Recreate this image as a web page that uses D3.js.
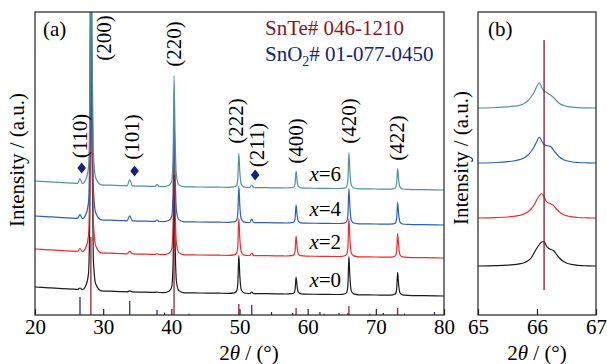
<!DOCTYPE html>
<html>
<head>
<meta charset="utf-8">
<script src="https://cdn.jsdelivr.net/npm/d3@7"></script>
<style>
  body { margin: 0; background: #fff; }
</style>
</head>
<body>
<div id="chart"></div>
<script>
// ---- panel (a): full patterns, shared 2θ grid ----
const twoTheta = [20, 22, 24, 25.8, 26.25, 26.6, 26.95, 27.5, 27.85, 28.05,
  28.2, 28.35, 28.55, 28.9, 29.7, 31, 32.5, 33.5, 33.9, 34.3,
  35.5, 37.6, 37.9, 38.2, 38.9, 39.7, 40.05, 40.25, 40.4, 40.55,
  40.75, 41.1, 41.9, 44, 47, 48.4, 49.2, 49.55, 49.75, 49.9,
  50.05, 50.25, 50.6, 51.3, 51.5, 51.8, 52.1, 54, 56, 56.8,
  57.6, 57.95, 58.15, 58.3, 58.45, 58.65, 59.0, 59.8, 62, 64,
  64.6, 65.35, 65.7, 65.9, 66.05, 66.2, 66.4, 66.75, 67.5, 70,
  71.7, 72.5, 72.85, 73.05, 73.2, 73.35, 73.55, 73.9, 74.7, 77, 80];

const intX0 = [28, 27.2, 26.4, 25.8, 25.6, 27, 25.4, 30.2, 41.6, 107.5,
  355, 173.3, 57.7, 31.2, 24.2, 23.8, 23.4, 23.2, 24.1, 23.1,
  22.9, 22.6, 23, 22.5, 22.4, 24, 27.9, 50.3, 134.3, 72.7,
  33.5, 24.4, 22.2, 22, 21.8, 21.7, 22.2, 23.5, 31.1, 59.6,
  38.7, 25.4, 22.3, 21.5, 21.5, 22.9, 21.4, 21.3, 21.1, 21,
  21.3, 21.8, 25.2, 37.9, 28.6, 22.6, 21.2, 20.8, 20.7, 20.5,
  20.5, 21, 22.3, 29.9, 58.4, 37.5, 24.1, 21.1, 20.2, 20,
  19.8, 20.1, 20.9, 25.5, 42.7, 30, 22, 20.1, 19.6, 19.3, 19];
const intX2 = [28, 27.2, 26.4, 25.8, 25.6, 28.5, 25.4, 30.2, 41.6, 107.5,
  355, 173.3, 57.7, 31.2, 24.2, 23.8, 23.4, 23.2, 25.6, 23.1,
  22.9, 22.6, 23.5, 22.5, 22.4, 24, 27.9, 50.1, 133.3, 72.3,
  33.4, 24.4, 22.2, 22, 21.8, 21.7, 22.2, 23.5, 30.9, 58.6,
  38.3, 25.3, 22.2, 21.5, 21.5, 23.9, 21.4, 21.3, 21.1, 21,
  21.3, 21.9, 25.9, 40.9, 29.9, 22.9, 21.3, 20.8, 20.7, 20.5,
  20.5, 21, 22.3, 29.9, 58.4, 37.5, 24.1, 21.1, 20.2, 20,
  19.8, 20.1, 20.9, 25.7, 43.7, 30.5, 22.1, 20.1, 19.6, 19.3, 19];
const intX4 = [28, 27.2, 26.4, 25.8, 25.6, 29.5, 25.4, 30.2, 41.6, 107.5,
  355, 173.3, 57.7, 31.2, 24.2, 23.8, 23.4, 23.2, 28.1, 23.1,
  22.9, 22.6, 24, 22.5, 22.4, 24, 27.8, 49.8, 132.3, 71.8,
  33.3, 24.4, 22.2, 22, 21.8, 21.7, 22.1, 23.4, 30.6, 57.6,
  37.8, 25.2, 22.2, 21.5, 21.5, 24.9, 21.4, 21.3, 21.1, 21,
  21.3, 21.8, 25.4, 38.9, 29, 22.7, 21.2, 20.8, 20.7, 20.5,
  20.5, 20.9, 22.2, 29.1, 55.4, 36.1, 23.8, 21, 20.2, 20,
  19.8, 20.1, 20.8, 25.2, 41.7, 29.6, 21.9, 20, 19.6, 19.3, 19];
const intX6 = [28, 27.2, 26.4, 25.8, 25.6, 30.5, 25.4, 30.2, 41.6, 107.5,
  355, 173.3, 57.7, 31.2, 24.2, 23.8, 23.4, 23.2, 29.1, 23.1,
  22.9, 22.6, 24.5, 22.5, 22.4, 24, 27.9, 50.1, 133.3, 72.3,
  33.4, 24.4, 22.2, 22, 21.8, 21.7, 22.1, 23.3, 30.1, 55.6,
  36.9, 25, 22.2, 21.5, 21.5, 23.9, 21.4, 21.3, 21.1, 21,
  21.3, 21.8, 25.2, 37.9, 28.6, 22.6, 21.2, 20.8, 20.7, 20.5,
  20.5, 20.9, 22.2, 29.4, 56.4, 36.6, 23.9, 21, 20.2, 20,
  19.8, 20.1, 20.8, 25, 40.7, 29.1, 21.8, 20, 19.6, 19.3, 19];

const seriesX = ['0', '2', '4', '6'];
const offsetsA = [0, 38, 71, 106];

// standard cards (stick heights in the same a.u.)
const snTePos = [28.2, 40.4, 49.9, 58.3, 66.05, 73.2];
const snTeInt = [78, 140, 11, 7, 9, 7];
const snO2Pos = [26.6, 33.9, 37.9, 39.0, 42.6, 51.8, 54.7, 57.8, 61.8, 62.4, 64.6, 65.9, 69.1, 71.1, 74.2, 78.6];
const snO2Int = [18, 14, 5, 2.5, 1.3, 10, 3, 2, 3, 1.3, 2, 2, 1.3, 2, 1.3, 3];

// peak annotations
const millerText = ['(110)', '(200)', '(101)', '(220)', '(222)', '(211)', '(400)', '(420)', '(422)'];
const millerPos = [26.6, 30.1, 34.2, 40.4, 49.5, 52.6, 58.3, 66.1, 73.1];
const millerLevel = [179, 277, 178, 271, 194, 170, 174, 194, 177];
const diamondPos = [26.85, 34.6, 52.3];
const diamondLevel = [147, 144, 140];

// ---- panel (b): (420) region ----
const twoThetaB = [65.0, 65.3, 65.5, 65.6, 65.7, 65.78, 65.84, 65.9, 65.95, 66.0,
  66.04, 66.08, 66.12, 66.16, 66.2, 66.24, 66.28, 66.32, 66.38, 66.45,
  66.52, 66.6, 66.7, 66.85, 67.0];
const bX0 = [0, 0.3, 0.8, 1.3, 2.2, 3.3, 5, 8, 13, 18, 21.5, 24, 24.5, 20, 17.5, 16.5, 15.5, 12.5, 8, 4.5, 2.5, 1.3, 0.6, 0.2, 0];
const bX2 = [0, 0.4, 1, 1.6, 2.6, 4, 6, 9, 13, 18.5, 22, 24.5, 21, 16.5, 15, 14, 12.5, 9.5, 6, 3.3, 2, 1.1, 0.5, 0.2, 0];
const bX4 = [0, 0.5, 1.3, 2, 3.3, 5, 7.5, 11.5, 16, 22, 26, 22, 18.5, 17.5, 17, 16, 13, 10, 6, 3.3, 2, 1, 0.5, 0.2, 0];
const bX6 = [0, 0.5, 1.2, 1.8, 2.7, 4.5, 7, 11, 15.5, 22, 25.5, 20.5, 17, 15.5, 14, 12.5, 10.5, 8, 4.5, 2.5, 1.4, 0.8, 0.4, 0.1, 0];
const offsetsB = [49, 97, 152, 207];
const refLineB = 66.12;
const refLineSpan = [25, 275];

// ---- layout / style ----
const width = 607, height = 364;
const plotTop = 12, plotBottom = 315;
const aLeft = 35, aRight = 444, bLeft = 478, bRight = 596;
const colors = ['#1a1a1a', '#ee2a2a', '#2c5fb6', '#4f9595'];
const snTeColor = '#84162a', snO2Color = '#15237a';
const fontSize = 21;
const serif = '"Liberation Serif", "Times New Roman", Times, serif';

const svg = d3.select('#chart').append('svg')
  .attr('width', width).attr('height', height)
  .style('background', '#fff');

const xA = d3.scaleLinear().domain([20, 80]).range([aLeft, aRight]);
const xB = d3.scaleLinear().domain([65, 67]).range([bLeft, bRight]);
const y = d3.scaleLinear().domain([0, 303]).range([plotBottom, plotTop]);

const defs = svg.append('defs');
defs.append('clipPath').attr('id', 'clipA').append('rect')
  .attr('x', aLeft).attr('y', plotTop).attr('width', aRight - aLeft).attr('height', plotBottom - plotTop);
defs.append('clipPath').attr('id', 'clipB').append('rect')
  .attr('x', bLeft).attr('y', plotTop).attr('width', bRight - bLeft).attr('height', plotBottom - plotTop);

// patterns (a)
const seriesA = [intX0, intX2, intX4, intX6];
const gA = svg.append('g').attr('clip-path', 'url(#clipA)');
seriesA.forEach((vals, i) => {
  const line = d3.line()
    .x((d, j) => xA(twoTheta[j]))
    .y(d => y(d + offsetsA[i]))
    .curve(d3.curveMonotoneX);
  gA.append('path')
    .attr('d', line(vals))
    .attr('fill', 'none')
    .attr('stroke', colors[i])
    .attr('stroke-width', 1.2);
});

// standard sticks
gA.selectAll('.sno2').data(snO2Pos).enter().append('line')
  .attr('x1', d => xA(d)).attr('x2', d => xA(d))
  .attr('y1', y(0)).attr('y2', (d, i) => y(snO2Int[i]))
  .attr('stroke', snO2Color).attr('stroke-width', 1.2);
gA.selectAll('.snte').data(snTePos).enter().append('line')
  .attr('x1', d => xA(d)).attr('x2', d => xA(d))
  .attr('y1', y(0)).attr('y2', (d, i) => y(snTeInt[i]))
  .attr('stroke', snTeColor).attr('stroke-width', 1.2);

// patterns (b)
const seriesB = [bX0, bX2, bX4, bX6];
const gB = svg.append('g').attr('clip-path', 'url(#clipB)');
seriesB.forEach((vals, i) => {
  const line = d3.line()
    .x((d, j) => xB(twoThetaB[j]))
    .y(d => y(d + offsetsB[i]))
    .curve(d3.curveMonotoneX);
  gB.append('path')
    .attr('d', line(vals))
    .attr('fill', 'none')
    .attr('stroke', colors[i])
    .attr('stroke-width', 1.2);
});
gB.append('line')
  .attr('x1', xB(refLineB)).attr('x2', xB(refLineB))
  .attr('y1', y(refLineSpan[0])).attr('y2', y(refLineSpan[1]))
  .attr('stroke', snTeColor).attr('stroke-width', 1.3);

// axes: inward ticks, labels below
function bottomAxis(scale, ticks) {
  return d3.axisBottom(scale).tickValues(ticks)
    .tickFormat(d3.format('d'))
    .tickSizeInner(-6).tickSizeOuter(0).tickPadding(4);
}
[[xA, [20, 30, 40, 50, 60, 70, 80]], [xB, [65, 66, 67]]].forEach(([sc, t]) => {
  const ax = svg.append('g')
    .attr('transform', `translate(0,${plotBottom})`)
    .call(bottomAxis(sc, t));
  ax.select('.domain').remove();
  ax.selectAll('line').attr('stroke', '#222').attr('stroke-width', 1.2);
  ax.selectAll('text')
    .attr('fill', '#000')
    .attr('font-size', fontSize);
});

// frames
[[aLeft, aRight], [bLeft, bRight]].forEach(([l, r]) => {
  svg.append('rect')
    .attr('x', l).attr('y', plotTop).attr('width', r - l).attr('height', plotBottom - plotTop)
    .attr('fill', 'none').attr('stroke', '#222').attr('stroke-width', 1.2);
});

// axis titles
function xTitle(cx) {
  const t = svg.append('text')
    .attr('x', cx).attr('y', 360)
    .attr('text-anchor', 'middle')
    .attr('font-size', fontSize);
  t.append('tspan').text('2');
  t.append('tspan').attr('font-style', 'italic').text('θ');
  t.append('tspan').text(' / (°)');
}
xTitle(249);
xTitle(xB(66));

function yTitle(cx, cy) {
  svg.append('text')
    .attr('transform', `translate(${cx},${cy}) rotate(-90)`)
    .attr('text-anchor', 'middle')
    .attr('dominant-baseline', 'central')
    .attr('font-size', fontSize)
    .text('Intensity / (a.u.)');
}
yTitle(17, 160);
yTitle(461, 158);

// panel tags
svg.append('text').attr('x', 43).attr('y', 36).attr('font-size', fontSize).text('(a)');
svg.append('text').attr('x', 488).attr('y', 36).attr('font-size', fontSize).text('(b)');

// legend
svg.append('text').attr('x', 265).attr('y', 35)
  .attr('font-size', fontSize).attr('fill', snTeColor)
  .text('SnTe# 046-1210');
const leg2 = svg.append('text').attr('x', 265).attr('y', 61)
  .attr('font-size', fontSize).attr('fill', snO2Color);
leg2.append('tspan').text('SnO');
leg2.append('tspan').attr('dy', 5).attr('font-size', 14).text('2');
leg2.append('tspan').attr('dy', -5).text('# 01-077-0450');

// Miller indices
millerText.forEach((txt, i) => {
  svg.append('text')
    .attr('transform', `translate(${xA(millerPos[i])},${y(millerLevel[i])}) rotate(-90)`)
    .attr('text-anchor', 'middle')
    .attr('dominant-baseline', 'central')
    .attr('font-size', fontSize)
    .text(txt);
});

// SnO2 markers
svg.selectAll('.dia').data(diamondPos).enter().append('path')
  .attr('transform', (d, i) => `translate(${xA(d)},${y(diamondLevel[i])})`)
  .attr('d', 'M0,-5.5L4.3,0L0,5.5L-4.3,0Z')
  .attr('fill', snO2Color);

// series labels
seriesX.forEach((v, i) => {
  const t = svg.append('text')
    .attr('x', xA(64.9)).attr('y', y(offsetsA[i] + 28))
    .attr('text-anchor', 'end')
    .attr('font-size', fontSize);
  t.append('tspan').attr('font-style', 'italic').text('x');
  t.append('tspan').text('=' + v);
});

svg.selectAll('text').style('font-family', serif);
</script>
</body>
</html>
